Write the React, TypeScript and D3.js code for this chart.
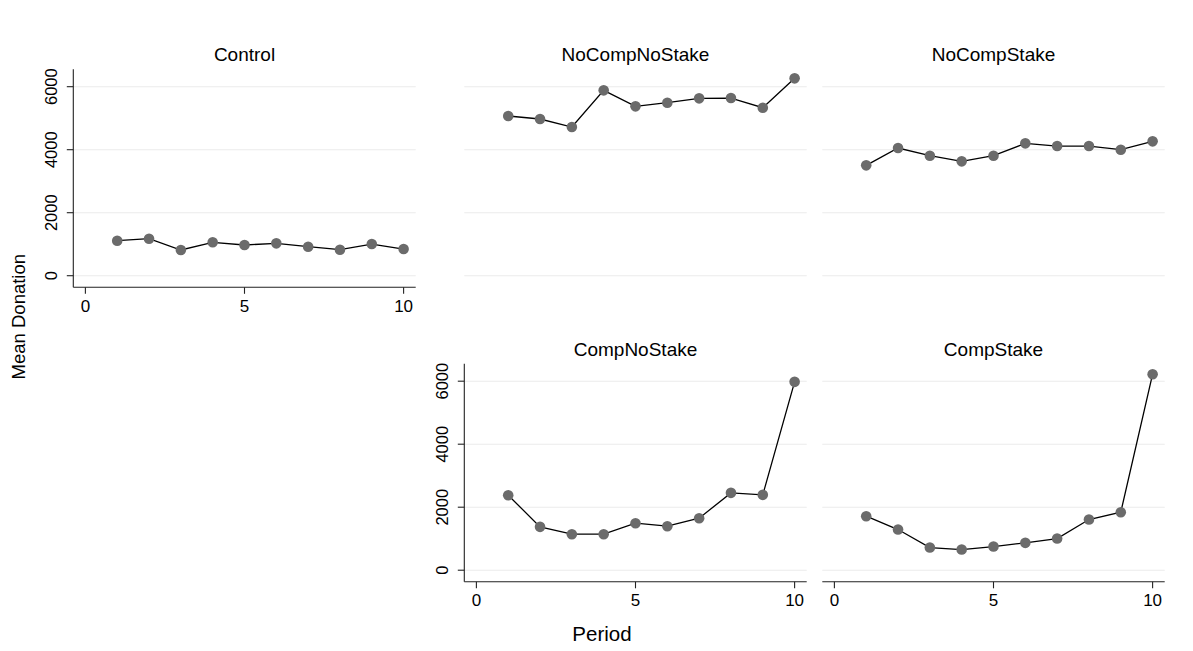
import React from "react";
import * as d3 from "d3";

const periods = [1, 2, 3, 4, 5, 6, 7, 8, 9, 10];
const controlValues = [1111, 1175, 816, 1060, 975, 1027, 921, 825, 1005, 847];
const noCompNoStakeValues = [5069, 4974, 4720, 5884, 5376, 5492, 5630, 5640, 5333, 6265];
const noCompStakeValues = [3503, 4053, 3810, 3630, 3810, 4201, 4116, 4116, 4000, 4265];
const compNoStakeValues = [2381, 1376, 1143, 1143, 1492, 1397, 1651, 2455, 2392, 5979];
const compStakeValues = [1714, 1291, 720, 656, 751, 868, 1005, 1608, 1841, 6222];
const yTicks = [0, 2000, 4000, 6000];
const xTicks = [0, 5, 10];

type Panel = {
  title: string;
  values: number[];
  left: number;
  top: number;
  showY: boolean;
  showX: boolean;
};

const panels: Panel[] = [
  { title: "Control", values: controlValues, left: 73.3, top: 69.3, showY: true, showX: true },
  { title: "NoCompNoStake", values: noCompNoStakeValues, left: 464.3, top: 69.3, showY: false, showX: false },
  { title: "NoCompStake", values: noCompStakeValues, left: 822.3, top: 69.3, showY: false, showX: false },
  { title: "CompNoStake", values: compNoStakeValues, left: 464.3, top: 363.8, showY: true, showX: true },
  { title: "CompStake", values: compStakeValues, left: 822.3, top: 363.8, showY: false, showX: true },
];

const PW = 342.4;
const PH = 218;
const FONT = "'Liberation Sans', Arial, Helvetica, sans-serif";

function PanelView({ p }: { p: Panel }) {
  const x = d3.scaleLinear().domain([-0.38, 10.38]).range([p.left, p.left + PW]);
  const y = d3.scaleLinear().domain([-368, 6552]).range([p.top + PH, p.top]);
  const line = d3
    .line<number>()
    .x((_, i) => x(periods[i]))
    .y((d) => y(d));
  const bottom = p.top + PH;
  return (
    <g>
      <text
        x={p.left + PW / 2}
        y={p.top - 8.3}
        textAnchor="middle"
        fontSize={19}
        fontFamily={FONT}
        fill="#000"
      >
        {p.title}
      </text>
      {yTicks.map((t) => (
        <line
          key={"g" + t}
          x1={p.left}
          x2={p.left + PW}
          y1={y(t)}
          y2={y(t)}
          stroke="#ebebeb"
          strokeWidth={1.1}
        />
      ))}
      {p.showY && (
        <g>
          <line x1={p.left} x2={p.left} y1={p.top} y2={bottom} stroke="#222" strokeWidth={1.1} />
          {yTicks.map((t) => (
            <g key={"yt" + t}>
              <line x1={p.left - 6.5} x2={p.left} y1={y(t)} y2={y(t)} stroke="#222" strokeWidth={1.1} />
              <text
                transform={`translate(${p.left - 16},${y(t)}) rotate(-90)`}
                textAnchor="middle"
                fontSize={16.5}
                fontFamily={FONT}
                fill="#000"
              >
                {t}
              </text>
            </g>
          ))}
        </g>
      )}
      {p.showX && (
        <g>
          <line x1={p.left} x2={p.left + PW} y1={bottom} y2={bottom} stroke="#222" strokeWidth={1.1} />
          {xTicks.map((t) => (
            <g key={"xt" + t}>
              <line x1={x(t)} x2={x(t)} y1={bottom} y2={bottom + 6.5} stroke="#222" strokeWidth={1.1} />
              <text
                x={x(t)}
                y={bottom + 24.5}
                textAnchor="middle"
                fontSize={17}
                fontFamily={FONT}
                fill="#000"
              >
                {t}
              </text>
            </g>
          ))}
        </g>
      )}
      <path d={line(p.values) || ""} fill="none" stroke="#000" strokeWidth={1.3} />
      {p.values.map((v, i) => (
        <circle key={i} cx={x(periods[i])} cy={y(v)} r={5.3} fill="#6b6b6b" />
      ))}
    </g>
  );
}

export default function App() {
  return (
    <svg
      width={1193}
      height={651}
      style={{ position: "absolute", left: 0, top: 0, background: "#fff" }}
    >
      <rect x={0} y={0} width={1193} height={651} fill="#fff" />
      {panels.map((p) => (
        <PanelView key={p.title} p={p} />
      ))}
      <text
        transform="translate(25,316.7) rotate(-90)"
        textAnchor="middle"
        fontSize={18.5}
        fontFamily={FONT}
        fill="#000"
      >
        Mean Donation
      </text>
      <text x={602} y={640.5} textAnchor="middle" fontSize={20.5} fontFamily={FONT} fill="#000">
        Period
      </text>
    </svg>
  );
}
